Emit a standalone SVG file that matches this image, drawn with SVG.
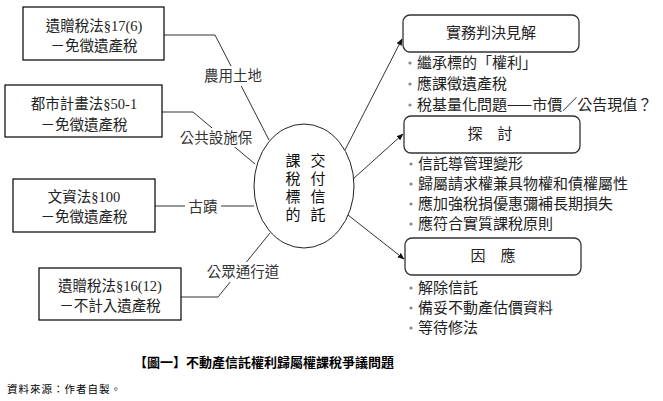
<svg xmlns="http://www.w3.org/2000/svg" width="663" height="401" viewBox="0 0 663 401">
<style>
.box{fill:#fff;stroke:#000;stroke-width:1.2}
.rbox{fill:#fff;stroke:#333;stroke-width:1.3}
.ln{fill:none;stroke:#333;stroke-width:1}
.st{font-family:"Liberation Serif","Noto Sans CJK TC",serif;font-size:14.5px;fill:#222;text-anchor:middle}
.ss{font-family:"Noto Sans CJK TC","Noto Sans CJK SC",sans-serif;font-size:15px;fill:#222}
.lab{font-family:"Noto Sans CJK TC",sans-serif;font-size:14.5px;fill:#333;text-anchor:middle}
.mid{text-anchor:middle}
.dot{fill:#888}
.ell{font-family:"Noto Sans CJK TC",sans-serif;font-size:15px;fill:#111;writing-mode:vertical-rl;letter-spacing:3px}
</style>
<defs>
<marker id="ah" viewBox="0 0 10 10" refX="9" refY="5" markerWidth="7" markerHeight="7" orient="auto" markerUnits="userSpaceOnUse">
<path d="M0,1 L10,5 L0,9 z" fill="#111"/>
</marker>
</defs>
<rect width="663" height="401" fill="#fff"/>
<g id="connectors">
<polyline class="ln" points="164,35 215,35 269,140"/>
<polyline class="ln" points="162,112 193,112 255,164"/>
<line class="ln" x1="155" y1="206" x2="254" y2="206"/>
<polyline class="ln" points="181,297 218,297 270,233"/>
<line class="ln" x1="345" y1="150" x2="402" y2="39" marker-end="url(#ah)"/>
<line class="ln" x1="353" y1="179" x2="403" y2="134" marker-end="url(#ah)"/>
<line class="ln" x1="348" y1="215" x2="404" y2="259" marker-end="url(#ah)"/>
<rect x="200" y="66" width="67" height="20" fill="#fff"/>
<text class="lab" x="233" y="81">農用土地</text>
<rect x="176" y="128" width="80" height="19" fill="#fff"/>
<text class="lab" x="216" y="143">公共設施保</text>
<rect x="185" y="197" width="36" height="18" fill="#fff"/>
<text class="lab" x="203" y="212">古蹟</text>
<rect x="203" y="262" width="80" height="20" fill="#fff"/>
<text class="lab" x="243" y="277">公眾通行道</text>
</g>
<g id="n1">
<rect class="box" x="23" y="7" width="141" height="53"/>
<text class="st" x="94" y="31">遺贈稅法§17(6)</text>
<text class="st" x="94" y="51">－免徵遺產稅</text>
</g>
<g id="n2">
<rect class="box" x="5" y="85" width="157" height="52"/>
<text class="st" x="84" y="109">都市計畫法§50-1</text>
<text class="st" x="84" y="130">－免徵遺產稅</text>
</g>
<g id="n3">
<rect class="box" x="13" y="179" width="142" height="53"/>
<text class="st" x="84" y="202">文資法§100</text>
<text class="st" x="84" y="222">－免徵遺產稅</text>
</g>
<g id="n4">
<rect class="box" x="39" y="268" width="142" height="52"/>
<text class="st" x="110" y="291">遺贈稅法§16(12)</text>
<text class="st" x="110" y="311">－不計入遺產稅</text>
</g>
<g id="center">
<ellipse cx="304" cy="186" rx="50" ry="62" fill="#fff" stroke="#222" stroke-width="1"/>
<text class="ell" x="318" y="153">交付信託</text>
<text class="ell" x="293" y="153">課稅標的</text>
</g>
<g id="r1">
<rect class="rbox" x="403" y="15" width="176" height="37" rx="7"/>
<text class="ss mid" x="491" y="38">實務判決見解</text>
<circle class="dot" cx="410" cy="63" r="1.6"/>
<text class="ss" x="417" y="68">繼承標的「權利」</text>
<circle class="dot" cx="410" cy="84" r="1.6"/>
<text class="ss" x="417" y="89">應課徵遺產稅</text>
<circle class="dot" cx="410" cy="105" r="1.6"/>
<text class="ss" x="417" y="110">稅基量化問題——市價／公告現值？</text>
</g>
<g id="r2">
<rect class="rbox" x="404" y="116" width="176" height="37" rx="7"/>
<text class="ss mid" x="490" y="139">探　討</text>
<circle class="dot" cx="411" cy="164" r="1.6"/>
<text class="ss" x="418" y="169">信託導管理變形</text>
<circle class="dot" cx="411" cy="184" r="1.6"/>
<text class="ss" x="418" y="189">歸屬請求權兼具物權和債權屬性</text>
<circle class="dot" cx="411" cy="204" r="1.6"/>
<text class="ss" x="418" y="209">應加強稅捐優惠彌補長期損失</text>
<circle class="dot" cx="411" cy="224" r="1.6"/>
<text class="ss" x="418" y="229">應符合實質課稅原則</text>
</g>
<g id="r3">
<rect class="rbox" x="405" y="238" width="176" height="37" rx="7"/>
<text class="ss mid" x="493" y="261">因　應</text>
<circle class="dot" cx="411" cy="288" r="1.6"/>
<text class="ss" x="418" y="293">解除信託</text>
<circle class="dot" cx="411" cy="308" r="1.6"/>
<text class="ss" x="418" y="313">備妥不動產估價資料</text>
<circle class="dot" cx="411" cy="328" r="1.6"/>
<text class="ss" x="418" y="333">等待修法</text>
</g>
<text x="264" y="367" font-family="Noto Sans CJK TC,sans-serif" font-size="13" font-weight="bold" fill="#000" text-anchor="middle">【圖一】不動產信託權利歸屬權課稅爭議問題</text>
<text x="7" y="393" font-family="Noto Sans CJK TC,sans-serif" font-size="10.5" fill="#000" letter-spacing="1">資料來源：作者自製。</text>
</svg>
